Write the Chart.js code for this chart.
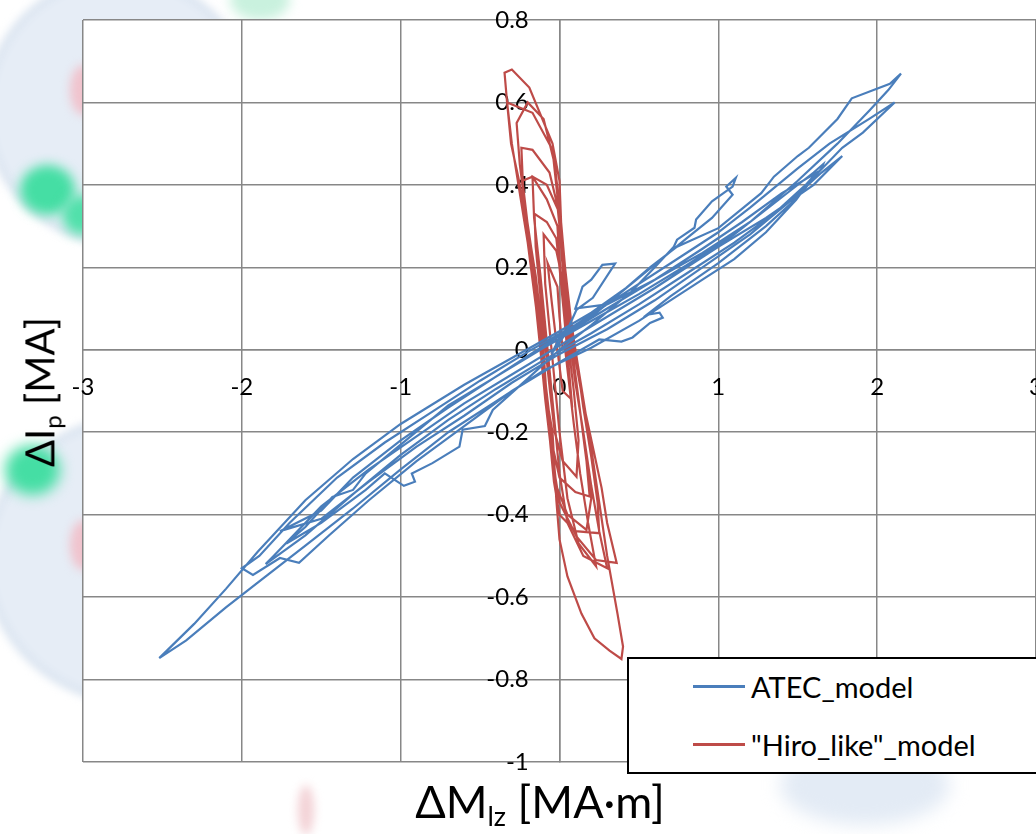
<!DOCTYPE html>
<html>
<head>
<meta charset="utf-8">
<script src="https://cdn.jsdelivr.net/npm/chart.js@4"></script>
<style>
  body { margin: 0; background: #fff; overflow: hidden; }
  #wrap { position: relative; width: 1036px; height: 834px; overflow: hidden; font-family: Lato, "Open Sans", sans-serif; }
  .blob { position: absolute; border-radius: 50%; }
  #chart { position: absolute; left: 0; top: 0; }
  #legend {
    position: absolute; left: 627px; top: 657px; width: 430px; height: 117px;
    box-sizing: border-box; border: 2px solid #000; background: #fff;
  }
  #legend .item { position: absolute; left: 64px; height: 40px; display: flex; align-items: center; font-size: 29px; color: #000; }
  #legend .swatch { display: inline-block; width: 52px; height: 3px; margin-right: 6px; }
  #xTitle { position: absolute; left: 340px; width: 400px; top: 774px; text-align: center; font-size: 45px; color: #000; white-space: nowrap; }
  #yTitle { position: absolute; left: 41px; top: 392px; transform: translate(-50%, -50%) rotate(-90deg); font-size: 40px; color: #000; white-space: nowrap; }
  sub { font-size: 0.6em; vertical-align: -0.3em; }
</style>
</head>
<body>
<div id="wrap">
  <div class="blob" style="left:-10px;top:-20px;width:260px;height:260px;background:#e6edf6;box-shadow:0 0 0 6px #d6e1ee;filter:blur(4px);"></div>
  <div class="blob" style="left:-10px;top:420px;width:300px;height:280px;background:#e6edf6;box-shadow:0 0 0 6px #d6e1ee;filter:blur(4px);"></div>
  <div class="blob" style="left:20px;top:165px;width:55px;height:50px;background:#45dea4;filter:blur(6px);"></div>
  <div class="blob" style="left:62px;top:195px;width:40px;height:40px;background:#52e0ab;filter:blur(6px);"></div>
  <div class="blob" style="left:70px;top:65px;width:26px;height:50px;background:#f0c3cd;filter:blur(5px);"></div>
  <div class="blob" style="left:5px;top:445px;width:55px;height:50px;background:#45dea4;filter:blur(7px);"></div>
  <div class="blob" style="left:70px;top:520px;width:26px;height:50px;background:#f0c3cd;filter:blur(5px);"></div>
  <div class="blob" style="left:230px;top:-20px;width:60px;height:40px;background:#c9f1de;filter:blur(6px);"></div>
  <div class="blob" style="left:298px;top:785px;width:16px;height:50px;background:#f3d2d6;filter:blur(5px);"></div>
  <div class="blob" style="left:780px;top:745px;width:170px;height:80px;background:#e3ebf5;filter:blur(9px);"></div>
  <canvas id="chart" width="1036" height="834"></canvas>
  <div id="legend"></div>
  <div id="xTitle">ΔM<sub>lz</sub> [MA·m]</div>
  <div id="yTitle">ΔI<sub>p</sub> [MA]</div>
</div>
<script>
const seriesLabels = ["ATEC_model", "\"Hiro_like\"_model"];
const seriesColors = ["#4a7ebb", "#be4b48"];
const xRange = [-3, 3];
const yRange = [-1, 0.8];

// [ΔMlz, ΔIp] pairs
const atecModel = [
  [-0.05, -0.01], [0.04, 0.04], [0.107, 0.097], [0.21, 0.126], [0.35, 0.209], [0.27, 0.206], [0.2, 0.17], [0.145, 0.153], [0.1, 0.1],
  [0.3, 0.11], [0.6, 0.17], [0.9, 0.235], [1.2, 0.31], [1.5, 0.41], [1.75, 0.5], [1.95, 0.58], [2.07, 0.63], [2.15, 0.67],
  [2.08, 0.645], [1.84, 0.61], [1.75, 0.56], [1.57, 0.49], [1.5, 0.47], [1.35, 0.42], [1.27, 0.38], [1.0, 0.295], [0.74, 0.25],
  [0.57, 0.2], [0.42, 0.15], [0.2, 0.09], [0.0, 0.045], [-0.3, -0.02], [-0.6, -0.085], [-1.0, -0.18], [-1.3, -0.265],
  [-1.6, -0.365], [-1.9, -0.49], [-2.1, -0.58], [-2.3, -0.665], [-2.52, -0.748],
  [-2.35, -0.705], [-2.1, -0.625], [-1.9, -0.565], [-1.6, -0.475], [-1.3, -0.385], [-1.0, -0.29], [-0.7, -0.2], [-0.4, -0.125],
  [-0.1, -0.05], [0.2, 0.005], [0.5, 0.07], [0.9, 0.17], [1.1, 0.22], [1.3, 0.285], [1.49, 0.364], [1.574, 0.408], [1.78, 0.49],
  [1.91, 0.527], [2.11, 0.6],
  [1.95, 0.56], [1.7, 0.5], [1.5, 0.44], [1.2, 0.345], [1.0, 0.285], [0.7, 0.21], [0.4, 0.135], [0.1, 0.06], [-0.2, -0.005],
  [-0.5, -0.075], [-0.8, -0.15], [-1.1, -0.225], [-1.4, -0.31], [-1.7, -0.42], [-1.89, -0.5], [-2.0, -0.53],
  [-1.93, -0.546], [-1.76, -0.505], [-1.64, -0.517], [-1.45, -0.45], [-1.2, -0.365], [-0.9, -0.27], [-0.6, -0.185], [-0.3, -0.1],
  [0.0, -0.03], [0.25, 0.025], [0.39, 0.02], [0.46, 0.03], [0.57, 0.065], [0.65, 0.078], [0.63, 0.09], [0.55, 0.085],
  [0.7, 0.13], [1.0, 0.21], [1.3, 0.3], [1.5, 0.37], [1.65, 0.44], [1.66, 0.45], [1.6, 0.43],
  [1.4, 0.37], [1.1, 0.28], [0.8, 0.205], [0.5, 0.135], [0.2, 0.07], [-0.1, 0.005], [-0.42, -0.07], [-0.7, -0.135],
  [-1.0, -0.23], [-1.22, -0.3], [-1.3, -0.34], [-1.43, -0.357], [-1.6, -0.43], [-1.72, -0.47],
  [-1.5, -0.42], [-1.22, -0.34], [-1.1, -0.3], [-0.98, -0.33], [-0.91, -0.32], [-0.93, -0.3], [-0.8, -0.275], [-0.63, -0.235],
  [-0.61, -0.194], [-0.47, -0.185], [-0.42, -0.146], [-0.2, -0.07], [0.0, 0.0], [0.2, 0.06], [0.45, 0.14], [0.6, 0.2],
  [0.72, 0.25], [0.74, 0.267], [0.85, 0.296], [0.86, 0.316], [0.96, 0.36], [1.09, 0.396], [1.11, 0.417], [1.05, 0.396],
  [1.09, 0.376], [0.96, 0.32], [0.8, 0.27], [0.5, 0.175], [0.2, 0.08], [-0.1, 0.01], [-0.4, -0.065], [-0.7, -0.14],
  [-1.0, -0.22], [-1.3, -0.31], [-1.5, -0.39], [-1.76, -0.44],
  [-1.5, -0.41], [-1.2, -0.32], [-0.9, -0.235], [-0.6, -0.16], [-0.3, -0.08], [0.0, -0.01], [0.3, 0.05], [0.6, 0.12],
  [0.9, 0.2], [1.2, 0.28], [1.45, 0.36], [1.65, 0.43], [1.78, 0.47], [1.6, 0.4], [1.3, 0.32], [1.0, 0.25], [0.6, 0.15],
  [0.3, 0.08], [0.0, 0.01],
  [-0.3, -0.06], [-0.6, -0.13], [-0.9, -0.21], [-1.2, -0.29], [-1.5, -0.38], [-1.8, -0.5], [-1.85, -0.52],
  [-1.6, -0.45], [-1.3, -0.35], [-1.0, -0.255], [-0.7, -0.17], [-0.4, -0.095], [-0.1, -0.025], [0.2, 0.04], [0.5, 0.11],
  [0.8, 0.185], [1.1, 0.26], [1.35, 0.33], [1.55, 0.4], [1.62, 0.43],
  [1.4, 0.38], [1.15, 0.31], [0.9, 0.245], [0.6, 0.17], [0.3, 0.1], [0.0, 0.03], [-0.05, -0.01]
];

const hiroModel = [
  [0.02, 0.0], [0.0, 0.08], [-0.013, 0.153], [-0.075, 0.21], [-0.05, 0.12], [-0.02, 0.02], [0.02, -0.1], [0.075, -0.12], [0.08, -0.14],
  [0.06, -0.05], [0.03, 0.08], [0.0, 0.2], [-0.02, 0.27], [-0.08, 0.31], [-0.157, 0.33],
  [-0.15, 0.25], [-0.12, 0.13], [-0.09, 0.01], [-0.06, -0.1], [-0.03, -0.2], [0.02, -0.27], [0.107, -0.308],
  [0.12, -0.22], [0.09, -0.1], [0.06, 0.0], [0.03, 0.1], [0.0, 0.22], [-0.013, 0.3], [-0.08, 0.365], [-0.17, 0.42], [-0.233, 0.41],
  [-0.22, 0.32], [-0.18, 0.2], [-0.14, 0.08], [-0.1, -0.04], [-0.07, -0.14], [-0.04, -0.24], [0.0, -0.31], [0.1, -0.345], [0.19, -0.356],
  [0.17, -0.27], [0.13, -0.15], [0.09, -0.04], [0.05, 0.08], [0.02, 0.2], [0.0, 0.3], [-0.013, 0.35], [-0.063, 0.43], [-0.17, 0.485], [-0.24, 0.49],
  [-0.23, 0.4], [-0.19, 0.27], [-0.15, 0.14], [-0.115, 0.02], [-0.085, -0.1], [-0.05, -0.22], [-0.02, -0.33], [0.05, -0.4], [0.17, -0.437],
  [0.2, -0.36], [0.16, -0.24], [0.12, -0.12], [0.08, 0.0], [0.04, 0.14], [0.01, 0.28], [-0.015, 0.38], [-0.044, 0.485], [-0.17, 0.575], [-0.33, 0.6],
  [-0.3, 0.5], [-0.25, 0.38], [-0.2, 0.26], [-0.155, 0.13], [-0.12, 0.0], [-0.09, -0.12], [-0.06, -0.22], [-0.035, -0.32], [0.0, -0.4], [0.1, -0.44], [0.25, -0.445],
  [0.24, -0.37], [0.2, -0.26], [0.15, -0.14], [0.11, -0.03], [0.07, 0.08], [0.035, 0.2], [0.01, 0.31], [0.0, 0.41], [-0.044, 0.5], [-0.19, 0.636], [-0.3, 0.68], [-0.346, 0.672],
  [-0.33, 0.6], [-0.305, 0.5], [-0.26, 0.42], [-0.2, 0.3], [-0.15, 0.18], [-0.11, 0.05], [-0.08, -0.12], [-0.044, -0.2], [-0.02, -0.364], [0.0, -0.46], [0.05, -0.55], [0.138, -0.64], [0.22, -0.7], [0.315, -0.73], [0.39, -0.75],
  [0.4, -0.72], [0.365, -0.64], [0.3, -0.5], [0.25, -0.37], [0.2, -0.24], [0.15, -0.12], [0.1, 0.0], [0.06, 0.1], [0.03, 0.2], [0.005, 0.33], [-0.03, 0.45], [-0.1, 0.56], [-0.2, 0.6],
  [-0.27, 0.55], [-0.25, 0.45], [-0.21, 0.33], [-0.16, 0.2], [-0.12, 0.06], [-0.09, -0.07], [-0.06, -0.19], [-0.03, -0.3], [0.0, -0.37], [0.107, -0.453], [0.23, -0.51], [0.36, -0.517],
  [0.3, -0.42], [0.265, -0.335], [0.19, -0.2], [0.145, -0.12], [0.09, 0.0], [0.05, 0.12], [0.02, 0.24], [-0.01, 0.34], [-0.08, 0.4], [-0.17, 0.42],
  [-0.16, 0.32], [-0.12, 0.18], [-0.09, 0.06], [-0.06, -0.06], [-0.03, -0.18], [0.0, -0.3], [0.05, -0.42], [0.15, -0.5], [0.3, -0.53],
  [0.25, -0.44], [0.2, -0.33], [0.15, -0.2], [0.1, -0.08], [0.06, 0.04], [0.03, 0.15], [-0.02, 0.24], [-0.1, 0.28],
  [-0.09, 0.16], [-0.06, 0.04], [-0.03, -0.08], [0.0, -0.2], [0.05, -0.36], [0.12, -0.47], [0.23, -0.525],
  [0.18, -0.42], [0.13, -0.3], [0.09, -0.18], [0.06, -0.08], [0.03, 0.02]
];

const toPoints = pairs => pairs.map(p => ({ x: p[0], y: p[1] }));

const plotBackground = {
  id: "plotBackground",
  beforeDraw(chart) {
    const { ctx, chartArea } = chart;
    ctx.save();
    ctx.fillStyle = "#ffffff";
    ctx.fillRect(chartArea.left, chartArea.top, chartArea.right - chartArea.left, chartArea.bottom - chartArea.top);
    ctx.restore();
  },
};

// crossing axes: keep them from taking any room, so the plot area comes from the padding only
function noRoom(scale) {
  if (scale.isHorizontal()) scale.height = 0; else scale.width = 0;
  scale.paddingLeft = scale.paddingRight = scale.paddingTop = scale.paddingBottom = 0;
}

const ctx = document.getElementById("chart").getContext("2d");
const chart = new Chart(ctx, {
  type: "scatter",
  data: {
    datasets: [
      { label: seriesLabels[0], data: toPoints(atecModel), borderColor: seriesColors[0], backgroundColor: seriesColors[0] },
      { label: seriesLabels[1], data: toPoints(hiroModel), borderColor: seriesColors[1], backgroundColor: seriesColors[1] },
    ].map(ds => Object.assign(ds, { showLine: true, borderWidth: 2.2, pointRadius: 0, tension: 0 })),
  },
  options: {
    responsive: false,
    animation: false,
    layout: { padding: { left: 83, top: 20, bottom: 72, right: 0 } },
    plugins: { legend: { display: false }, tooltip: { enabled: false } },
    scales: {
      x: {
        type: "linear",
        position: { y: 0 },
        min: xRange[0],
        max: xRange[1],
        afterFit: noRoom,
        ticks: { stepSize: 1, padding: 23, color: "#000", font: { family: "Lato", size: 24 } },
        grid: { color: "#878787", lineWidth: 1.5, drawTicks: false },
        border: { color: "#878787", width: 1.5 },
      },
      y: {
        type: "linear",
        position: { x: 0 },
        min: yRange[0],
        max: yRange[1],
        afterFit: noRoom,
        ticks: { stepSize: 0.2, color: "#000", font: { family: "Lato", size: 24 },
          callback: v => Number(v.toFixed(1)).toString() + "     " },
        grid: { color: "#878787", lineWidth: 1.5, drawTicks: false },
        border: { color: "#878787", width: 1.5 },
      },
    },
  },
  plugins: [plotBackground],
});

// html legend built from the datasets
const legendBox = document.getElementById("legend");
chart.data.datasets.forEach((ds, i) => {
  const item = document.createElement("div");
  item.className = "item";
  item.style.top = (7 + i * 58) + "px";
  const sw = document.createElement("span");
  sw.className = "swatch";
  sw.style.background = ds.borderColor;
  const tx = document.createElement("span");
  tx.textContent = ds.label;
  item.appendChild(sw);
  item.appendChild(tx);
  legendBox.appendChild(item);
});
</script>
</body>
</html>
